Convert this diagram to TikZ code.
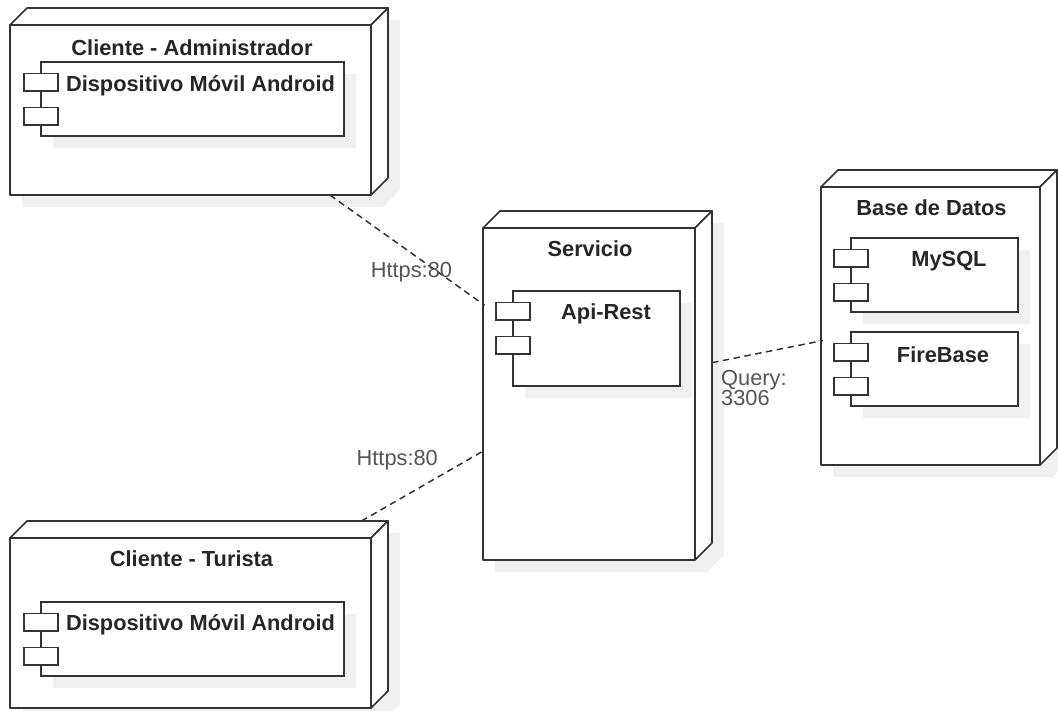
\documentclass[tikz,border=0pt]{standalone}
\usepackage{fontspec}
\setmainfont{Liberation Sans}
\usetikzlibrary{positioning}
\definecolor{linegray}{HTML}{333333}
\definecolor{shadowgray}{HTML}{F0F0F0}
\definecolor{labelgray}{HTML}{555555}
\tikzset{
    device/.style 2 args={
        minimum width=#1pt,minimum height=#2pt,inner sep=0pt,outer sep=0pt,
        append after command={\pgfextra{
            \begin{scope}[shift={(\tikzlastnode.north west)}]
                \fill[shadowgray] (12,29) -- (29,12) -- (#1+12,12) -- (#1+12,#2-5) -- (#1-5,#2+12) -- (12,#2+12) -- cycle;
                \draw[linegray,fill=white,line width=1.7pt,line join=round] (0,17) rectangle (#1-17,#2);
                \draw[linegray,fill=white,line width=1.7pt,line join=round] (0,17) -- (17,0) -- (#1,0) -- (#1-17,17) -- cycle;
                \draw[linegray,fill=white,line width=1.7pt,line join=round] (#1-17,17) -- (#1,0) -- (#1,#2-17) -- (#1-17,#2) -- cycle;
            \end{scope}
        }}
    },
    component/.style 2 args={
        minimum width=#1pt,minimum height=#2pt,inner sep=0pt,outer sep=0pt,
        append after command={\pgfextra{
            \begin{scope}[shift={(\tikzlastnode.north west)}]
                \fill[shadowgray] (12,12) rectangle (#1+12,#2+12);
                \draw[linegray,fill=white,line width=1.7pt] (0,0) rectangle (#1,#2);
                \draw[linegray,fill=white,line width=1.7pt] (-17,11.5) rectangle (17,29);
                \draw[linegray,fill=white,line width=1.7pt] (-17,45.5) rectangle (17,63);
            \end{scope}
        }}
    },
    boxtext/.style={font=\fontsize{21.8}{24}\selectfont\bfseries,text=black!85,inner sep=0pt},
    link/.style={linegray,line width=1.5pt,dash pattern=on 6.5pt off 4.5pt,shorten >=-2pt},
    linklabel/.style={font=\fontsize{21.8}{20}\selectfont,text=labelgray,inner sep=0pt,align=left}
}
\begin{document}
\begin{tikzpicture}[x=1pt,y=-1pt]
    \useasboundingbox (0,0) rectangle (1058,710);

    \node[device={378}{187}] (admin) at (199,101.5) {};
    \node[component={303}{74}] (adminapp) at (192.5,99) {};
    \node[boxtext] (admintitle) at (192,47.5) {Cliente - Administrador};
    \node[boxtext] (adminapptext) at (200.5,86) {Dispositivo Móvil Android};

    \node[device={378}{187}] (turista) at (199,614.5) {};
    \node[component={303}{74}] (turistaapp) at (192.5,639) {};
    \node[boxtext] (turistatitle) at (191.5,558.5) {Cliente - Turista};
    \node[boxtext] (turistaapptext) at (200.5,625) {Dispositivo Móvil Android};

    \node[device={229}{349}] (servicio) at (597.5,385.5) {};
    \node[component={167}{95}] (api) at (596.5,338.5) {};
    \node[boxtext] (serviciotitle) at (590,249) {Servicio};
    \node[boxtext] (apitext) at (606,314) {Api-Rest};

    \node[device={236}{295}] (base) at (939,317.5) {};
    \node[component={167}{74}] (mysql) at (934.5,275) {};
    \node[component={167}{74}] (firebase) at (934.5,369) {};
    \node[boxtext] (basetitle) at (931.5,208) {Base de Datos};
    \node[boxtext] (mysqltext) at (949,261) {MySQL};
    \node[boxtext] (firebasetext) at (943,355) {FireBase};

    \path[link]
        (admin) edge node[linklabel,xshift=5pt,yshift=-23pt] {Https:80} (servicio)
        (turista) edge node[linklabel,xshift=-25pt,yshift=26pt] {Https:80} (servicio)
        (servicio) edge (base);
    \node[linklabel,anchor=west] (querytext) at (721,388) {Query:\\3306};
\end{tikzpicture}
\end{document}
